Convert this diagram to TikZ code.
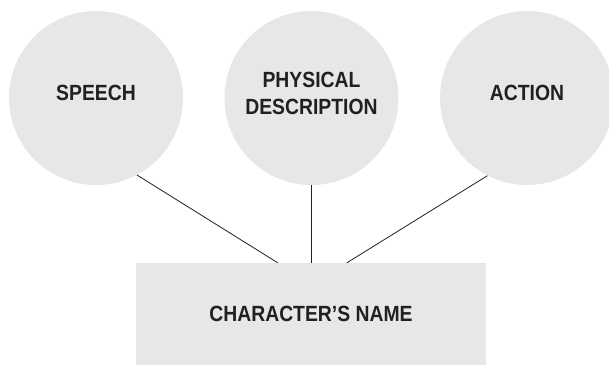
\documentclass[tikz,border=0pt]{standalone}
\usepackage{fontspec}
\setmainfont{Liberation Sans}[FakeStretch=0.88]
\usetikzlibrary{calc}
\definecolor{bubblegray}{HTML}{E6E7E8}
\definecolor{inkdark}{HTML}{231F20}

\begin{document}
\begin{tikzpicture}[x=1pt, y=-1pt,
        every node/.style={font=\bfseries\fontsize{22}{27}\selectfont, text=inkdark},
        bubble/.style={circle, fill=bubblegray, minimum size=174pt, inner sep=0pt},
        namebox/.style={rectangle, fill=bubblegray, minimum width=350pt, minimum height=102pt, inner sep=0pt},
        link/.style={draw=inkdark, line width=0.8pt}]
        % Frame of the picture
        \useasboundingbox (0,0) rectangle (609,364);
        \clip (0,0) rectangle (609,364);

        % Three traits
        \node[bubble] (speech) at (96,98) {};
        \node[bubble] (physical) at (311.5,98) {};
        \node[bubble] (action) at (527,98) {};
        \node (speechtxt) at ([yshift=5pt]speech.center) {SPEECH};
        \node[align=center] (physicaltxt) at ([yshift=4.5pt]physical.center) {PHYSICAL\\DESCRIPTION};
        \node (actiontxt) at ([yshift=5pt]action.center) {ACTION};

        % Character box
        \node[namebox] (name) at (311,314) {};
        \node (nametxt) at (name.center) {CHARACTER’S NAME};

        % Links
        \draw[link] (speech.-62) -- (name.123);
        \draw[link] (physical.south) -- (physical.south |- name.north);
        \draw[link] (action.-117) -- (name.55.5);
    \end{tikzpicture}
\end{document}
